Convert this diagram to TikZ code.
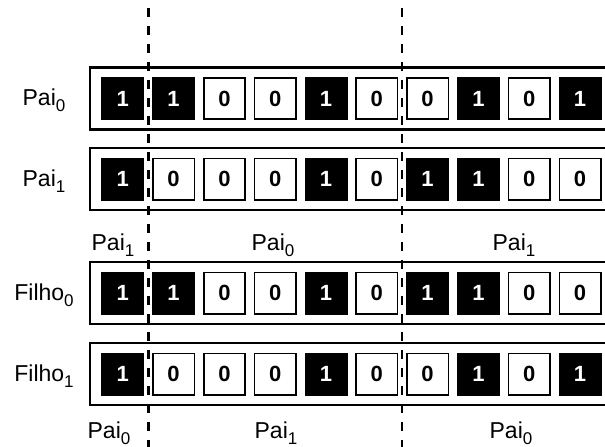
\documentclass[tikz,border=0pt]{standalone}
\usepackage{fontspec}
\setmainfont{Liberation Sans}
\newcommand\lowidx[1]{\raisebox{-5.5pt}{\fontsize{17}{17}\selectfont #1}}
\tikzset{
  bitcell/.style={minimum width=43pt, minimum height=43pt, inner sep=0pt,
    font=\fontsize{22}{22}\selectfont\bfseries},
  bitone/.style={bitcell, fill=black, text=white},
  bitzero/.style={bitcell, draw=black, line width=1.6pt, fill=white, text=black,
    minimum width=41.4pt, minimum height=41.4pt},
  rowbox/.style={draw=black, line width=2.2pt, minimum width=521.5pt, minimum height=62pt, inner sep=0pt},
  cutline/.style={draw=black, line width=2.2pt, dash pattern=on 9pt off 9pt},
  lbl/.style={font=\fontsize{23}{23}\selectfont, inner sep=0pt}
}
\begin{document}
\begin{tikzpicture}[x=1pt,y=-1pt]
\useasboundingbox (0,0) rectangle (605,447);
% row boxes
\node[rowbox] (r0) at (350.75,98.5) {};
\node[rowbox] (r1) at (350.75,179) {};
\node[rowbox] (r2) at (350.75,293) {};
\node[rowbox] (r3) at (350.75,374) {};
% cells
\foreach \r/\y/\bits in {0/98.5/{1,1,0,0,1,0,0,1,0,1},
                         1/179/{1,0,0,0,1,0,1,1,0,0},
                         2/293/{1,1,0,0,1,0,1,1,0,0},
                         3/374/{1,0,0,0,1,0,0,1,0,1}}{
  \foreach \b [count=\i from 0] in \bits {
    \ifnum\b=1
      \node[bitone] (c\r-\i) at ({122.8+50.8*\i},\y) {1};
    \else
      \node[bitzero] (c\r-\i) at ({122.8+50.8*\i},\y) {0};
    \fi
  }
}
% row labels
\node[lbl] (l0) at (44,100) {Pai\lowidx{0}};
\node[lbl] (l1) at (44,181) {Pai\lowidx{1}};
\node[lbl] (l2) at (44,295) {Filho\lowidx{0}};
\node[lbl] (l3) at (44,376) {Filho\lowidx{1}};
% segment labels
\node[lbl] (m0) at (113,245) {Pai\lowidx{1}};
\node[lbl] (m1) at (273,245) {Pai\lowidx{0}};
\node[lbl] (m2) at (514,245) {Pai\lowidx{1}};
\node[lbl] (b0) at (109,433) {Pai\lowidx{0}};
\node[lbl] (b1) at (276,433) {Pai\lowidx{1}};
\node[lbl] (b2) at (511,433) {Pai\lowidx{0}};
% cut lines
\coordinate (ta) at (148.5,8);
\coordinate (ba) at (148.5,447);
\coordinate (tb) at (402,8);
\coordinate (bb) at (402,447);
\draw[cutline] (ta) -- (ba);
\draw[cutline] (tb) -- (bb);
\end{tikzpicture}
\end{document}
